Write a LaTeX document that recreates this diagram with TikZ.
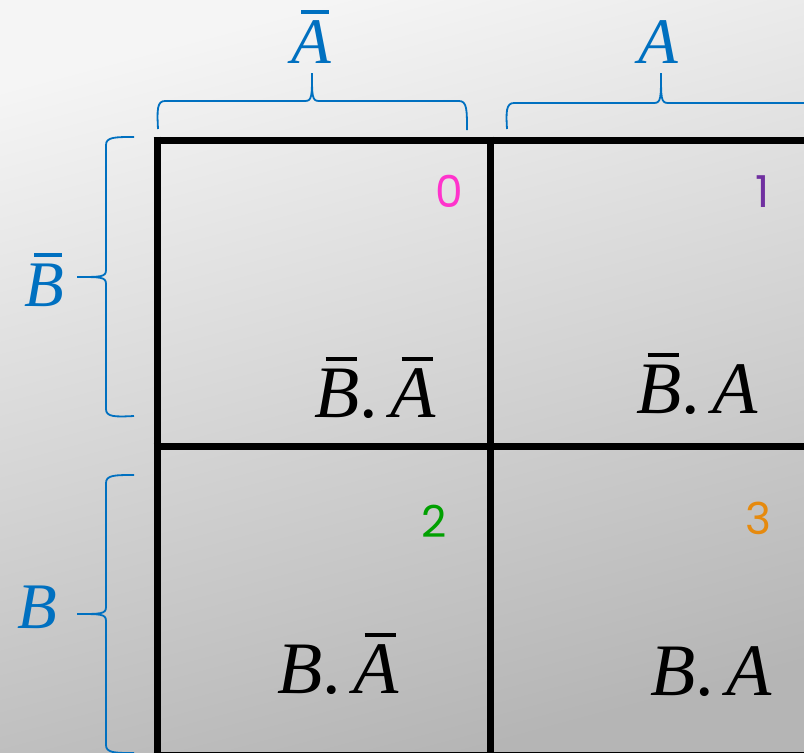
\documentclass[tikz,border=0pt]{standalone}
\usepackage{fontspec}
\setmainfont{Liberation Serif}
\newfontfamily\digitfont{Poppins}
\definecolor{braceblue}{HTML}{0070C0}
\definecolor{nummag}{HTML}{FF33CC}
\definecolor{numpur}{HTML}{7030A0}
\definecolor{numgrn}{HTML}{00A000}
\definecolor{numorg}{HTML}{E68A0E}
\newcommand\ovl[1]{\setbox0=\hbox{\itshape #1}\rlap{\kern0.25\wd0\rule[\dimexpr\ht0+0.1em\relax]{0.7\wd0}{0.055em}}\box0}
\tikzset{
  gridline/.style={line width=7pt, black},
  bracepath/.style={line width=1.8pt, braceblue},
  celltext/.style={inner sep=0pt, anchor=base west, font=\fontsize{74}{80}\selectfont\itshape},
  axislabel/.style={inner sep=0pt, font=\fontsize{65}{70}\selectfont\itshape, text=braceblue},
  numlabel/.style={inner sep=0pt, anchor=base east, font=\digitfont\fontsize{44}{48}\selectfont},
}
\begin{document}
\begin{tikzpicture}[x=1pt,y=-1pt]
\useasboundingbox (0,0) rectangle (804,753);
\shade[top color=black!4, bottom color=black!29, shading angle=15] (0,0) rectangle (804,753);

% grid
\coordinate (v1t) at (157,136.5);
\coordinate (v1b) at (157,760);
\coordinate (v2t) at (490,136.5);
\coordinate (v2b) at (490,760);
\coordinate (h1l) at (153.5,140);
\coordinate (h1r) at (810,140);
\coordinate (h2l) at (153.5,446);
\coordinate (h2r) at (810,446);
\coordinate (h3l) at (153.5,755);
\coordinate (h3r) at (810,755);
\draw[gridline] (h1l) -- (h1r);
\draw[gridline] (h2l) -- (h2r);
\draw[gridline] (h3l) -- (h3r);
\draw[gridline] (v1t) -- (v1b);
\draw[gridline] (v2t) -- (v2b);

% top braces
\draw[bracepath] (158,129) .. controls (157,110) and (157,101) .. (165,101)
  -- (305,101) .. controls (312,101) and (312,96) .. (312,73)
  .. controls (312,96) and (312,101) .. (319,101)
  -- (459,101) .. controls (467,101) and (467,110) .. (467,130);
\draw[bracepath] (507,129) .. controls (506,112) and (506,103) .. (514,103)
  -- (654,103) .. controls (661,103) and (661,98) .. (661,73)
  .. controls (661,98) and (661,103) .. (668,103)
  -- (810,103);

% left braces
\draw[bracepath] (134,137) .. controls (115,137) and (106,137) .. (106,145)
  -- (106,270) .. controls (106,277) and (101,277) .. (77,277)
  .. controls (101,277) and (106,277) .. (106,284)
  -- (106,409) .. controls (106,417) and (115,417) .. (134,416);
\draw[bracepath] (134,475) .. controls (115,475) and (106,475) .. (106,483)
  -- (106,607) .. controls (106,614) and (101,614) .. (77,614)
  .. controls (101,614) and (106,614) .. (106,621)
  -- (106,745) .. controls (106,753) and (115,753) .. (134,753);

% axis labels
\node[axislabel, anchor=base] (la0) at (311,63) {\ovl{A}};
\node[axislabel, anchor=base] (la1) at (658,63) {A};
\node[axislabel, anchor=base west] (lb0) at (24,306) {\ovl{B}};
\node[axislabel, anchor=base west] (lb1) at (17,628) {B};

% cell numbers
\node[numlabel, text=nummag] (n0) at (463,207) {0};
\node[numlabel, text=numpur] (n1) at (770,207) {1};
\node[numlabel, text=numgrn] (n2) at (447,537) {2};
\node[numlabel, text=numorg] (n3) at (772,534) {3};

% cell texts
\node[celltext] (c0) at (314,417) {\ovl{B}{\upshape.}\,\ovl{A}};
\node[celltext] (c1) at (636,413) {\ovl{B}{\upshape.}\,A};
\node[celltext] (c2) at (277,693) {B{\upshape.}\,\ovl{A}};
\node[celltext] (c3) at (650,695) {B{\upshape.}\,A};
\end{tikzpicture}
\end{document}
